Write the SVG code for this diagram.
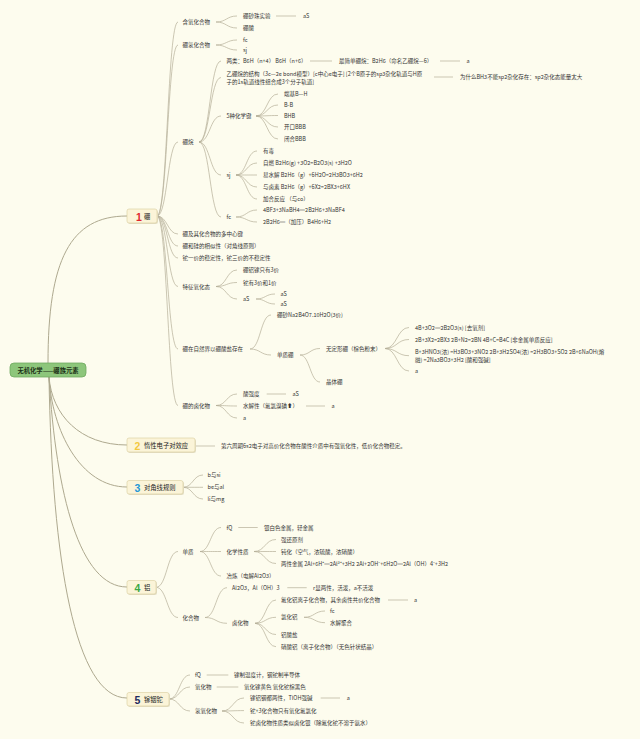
<svg xmlns="http://www.w3.org/2000/svg" width="640" height="739" viewBox="0 0 640 739">
<style>
text{font-family:"Noto Sans CJK SC","Noto Sans",sans-serif;fill:#333;dominant-baseline:central}
.t{font-size:5.5px}
.b{font-size:6.3px;fill:#222}
.n{font-family:"Liberation Sans",sans-serif;font-weight:bold;font-size:10.5px}
.c{fill:none;stroke:#b4af98;stroke-width:0.7}
.rc{fill:none;stroke:#aea98f;stroke-width:1}
.box{fill:#fbf4d8;stroke:#d9cc9c;stroke-width:0.6}
.sh{fill:#e4dfc6}
</style>
<rect width="640" height="739" fill="#fdfcee"/>
<g id="connectors">
<path class="rc" d="M48,363 C48,260 70,216 127,216"/>
<path class="rc" d="M49,377 C52,415 80,445 127,445"/>
<path class="rc" d="M49,377 C52,430 80,487 127,487"/>
<path class="rc" d="M49,377 C56,495 80,587 127,587"/>
<path class="rc" d="M49,377 C52,560 75,698 127,698"/>
<path class="c" d="M157,216 C167.5,216 167.5,22 178,22"/>
<path class="c" d="M157,216 C167.5,216 167.5,45 178,45"/>
<path class="c" d="M157,216 C167.5,216 167.5,142 178,142"/>
<path class="c" d="M157,216 C167.5,216 167.5,234 178,234"/>
<path class="c" d="M157,216 C167.5,216 167.5,246 178,246"/>
<path class="c" d="M157,216 C167.5,216 167.5,258 178,258"/>
<path class="c" d="M157,216 C167.5,216 167.5,286.5 178,286.5"/>
<path class="c" d="M157,216 C167.5,216 167.5,349 178,349"/>
<path class="c" d="M157,216 C167.5,216 167.5,405.5 178,405.5"/>
<path class="c" d="M216,22 C226.5,22 226.5,16 237,16"/>
<path class="c" d="M216,22 C226.5,22 226.5,28 237,28"/>
<path class="c" d="M276,16 H296"/>
<path class="c" d="M216,45 C226.5,45 226.5,40 237,40"/>
<path class="c" d="M216,45 C226.5,45 226.5,50 237,50"/>
<path class="c" d="M199,142 C210,142 210,61 221,61"/>
<path class="c" d="M199,142 C210,142 210,77.5 221,77.5"/>
<path class="c" d="M199,142 C210,142 210,116 221,116"/>
<path class="c" d="M199,142 C210,142 210,175 221,175"/>
<path class="c" d="M199,142 C210,142 210,217 221,217"/>
<path class="c" d="M310,61 H332"/>
<path class="c" d="M440,61 H460"/>
<path class="c" d="M434,77 H453"/>
<path class="c" d="M256,116 C267,116 267,94 278,94"/>
<path class="c" d="M256,116 C267,116 267,105 278,105"/>
<path class="c" d="M256,116 C267,116 267,115.5 278,115.5"/>
<path class="c" d="M256,116 C267,116 267,127 278,127"/>
<path class="c" d="M256,116 C267,116 267,139 278,139"/>
<path class="c" d="M236,175 C246.5,175 246.5,151 257,151"/>
<path class="c" d="M236,175 C246.5,175 246.5,163 257,163"/>
<path class="c" d="M236,175 C246.5,175 246.5,175 257,175"/>
<path class="c" d="M236,175 C246.5,175 246.5,187 257,187"/>
<path class="c" d="M236,175 C246.5,175 246.5,199 257,199"/>
<path class="c" d="M236,217 C246.5,217 246.5,210 257,210"/>
<path class="c" d="M236,217 C246.5,217 246.5,222 257,222"/>
<path class="c" d="M216,286.5 C226.5,286.5 226.5,270 237,270"/>
<path class="c" d="M216,286.5 C226.5,286.5 226.5,282.5 237,282.5"/>
<path class="c" d="M216,286.5 C226.5,286.5 226.5,299 237,299"/>
<path class="c" d="M256,299 C265.5,299 265.5,294 275,294"/>
<path class="c" d="M256,299 C265.5,299 265.5,304 275,304"/>
<path class="c" d="M250,349 C260.5,349 260.5,315 271,315"/>
<path class="c" d="M250,349 C260.5,349 260.5,355 271,355"/>
<path class="c" d="M300,355 C310,355 310,348.5 320,348.5"/>
<path class="c" d="M300,355 C310,355 310,382 320,382"/>
<path class="c" d="M385,348.5 C397,348.5 397,327.5 409,327.5"/>
<path class="c" d="M385,348.5 C397,348.5 397,339.5 409,339.5"/>
<path class="c" d="M385,348.5 C397,348.5 397,355.7 409,355.7"/>
<path class="c" d="M385,348.5 C397,348.5 397,371 409,371"/>
<path class="c" d="M216,405.5 C226.5,405.5 226.5,394 237,394"/>
<path class="c" d="M216,405.5 C226.5,405.5 226.5,406 237,406"/>
<path class="c" d="M216,405.5 C226.5,405.5 226.5,418 237,418"/>
<path class="c" d="M266.7,394 H286"/>
<path class="c" d="M306,406 H325"/>
<path class="c" d="M195,446 H215"/>
<path class="c" d="M183,487.3 C193,487.3 193,475 203,475"/>
<path class="c" d="M183,487.3 C193,487.3 193,487.3 203,487.3"/>
<path class="c" d="M183,487.3 C193,487.3 193,499 203,499"/>
<path class="c" d="M156,587.3 C167,587.3 167,551.5 178,551.5"/>
<path class="c" d="M156,587.3 C167,587.3 167,617.5 178,617.5"/>
<path class="c" d="M200,551.5 C210.5,551.5 210.5,527.5 221,527.5"/>
<path class="c" d="M200,551.5 C210.5,551.5 210.5,551.5 221,551.5"/>
<path class="c" d="M200,551.5 C210.5,551.5 210.5,576 221,576"/>
<path class="c" d="M238.3,527.5 H257.7"/>
<path class="c" d="M254,551.5 C265,551.5 265,539.5 276,539.5"/>
<path class="c" d="M254,551.5 C265,551.5 265,551.5 276,551.5"/>
<path class="c" d="M254,551.5 C265,551.5 265,563.5 276,563.5"/>
<path class="c" d="M205,617.5 C216,617.5 216,587.7 227,587.7"/>
<path class="c" d="M205,617.5 C216,617.5 216,623.3 227,623.3"/>
<path class="c" d="M287.3,587.7 H306.7"/>
<path class="c" d="M255,623.3 C265.5,623.3 265.5,600 276,600"/>
<path class="c" d="M255,623.3 C265.5,623.3 265.5,617.3 276,617.3"/>
<path class="c" d="M255,623.3 C265.5,623.3 265.5,634.5 276,634.5"/>
<path class="c" d="M255,623.3 C265.5,623.3 265.5,646.7 276,646.7"/>
<path class="c" d="M388,600 H408"/>
<path class="c" d="M304,617.3 C314.5,617.3 314.5,611 325,611"/>
<path class="c" d="M304,617.3 C314.5,617.3 314.5,622.7 325,622.7"/>
<path class="c" d="M169,699 C179.5,699 179.5,675 190,675"/>
<path class="c" d="M169,699 C179.5,699 179.5,687 190,687"/>
<path class="c" d="M169,699 C179.5,699 179.5,711 190,711"/>
<path class="c" d="M206.7,675 H228.3"/>
<path class="c" d="M216.7,687 H238.3"/>
<path class="c" d="M222,711 C233,711 233,698 244,698"/>
<path class="c" d="M222,711 C233,711 233,710.6 244,710.6"/>
<path class="c" d="M222,711 C233,711 233,723 244,723"/>
<path class="c" d="M320.7,698 H340"/>
</g>
<g id="root">
<rect x="10" y="363" width="76" height="14" rx="4" fill="#8dc67b" stroke="#6fa95f" stroke-width="0.8"/>
<text x="48" y="370" class="b" text-anchor="middle" font-weight="bold" style="fill:#1e3318">无机化学——硼族元素</text>
</g>
<g id="b1">
<rect class="sh" x="128" y="210" width="30" height="14" rx="2"/>
<rect class="box" x="127" y="209" width="30" height="14" rx="2"/>
<text class="n" x="136" y="216.5" style="fill:#e0262e">1</text>
<text class="b" x="144" y="216">硼</text>
</g>
<g id="b2">
<rect class="sh" x="128" y="439" width="68" height="14" rx="2"/>
<rect class="box" x="127" y="438" width="68" height="14" rx="2"/>
<text class="n" x="134.5" y="445.5" style="fill:#f4c83e">2</text>
<text class="b" x="144" y="445">惰性电子对效应</text>
</g>
<g id="b3">
<rect class="sh" x="128" y="481.5" width="56" height="13.5" rx="2"/>
<rect class="box" x="127" y="480.5" width="56" height="13.5" rx="2"/>
<text class="n" x="134.5" y="487.8" style="fill:#2497d6">3</text>
<text class="b" x="144" y="487.3">对角线规则</text>
</g>
<g id="b4">
<rect class="sh" x="128" y="581.5" width="29" height="13.5" rx="2"/>
<rect class="box" x="127" y="580.5" width="29" height="13.5" rx="2"/>
<text class="n" x="134.5" y="587.8" style="fill:#3aa845">4</text>
<text class="b" x="144" y="587.3">铝</text>
</g>
<g id="b5">
<rect class="sh" x="128" y="693.5" width="42" height="13.5" rx="2"/>
<rect class="box" x="127" y="692.5" width="42" height="13.5" rx="2"/>
<text class="n" x="134.5" y="699.8" style="fill:#1e2a5e">5</text>
<text class="b" x="144" y="699">镓铟铊</text>
</g>
<g id="n-hanyang"><text class="t" x="182.5" y="22">含氧化合物</text></g>
<g id="n-pengsha"><text class="t" x="243" y="16">硼砂珠实验</text></g>
<g id="n-as1"><text class="t" x="303" y="16">aS</text></g>
<g id="n-pengsuan"><text class="t" x="243" y="28">硼酸</text></g>
<g id="n-pengqing"><text class="t" x="182.5" y="45">硼氢化合物</text></g>
<g id="n-fc1"><text class="t" x="243" y="40">fc</text></g>
<g id="n-sj1"><text class="t" x="243" y="50">sj</text></g>
<g id="n-pengwan"><text class="t" x="182.5" y="142">硼烷</text></g>
<g id="n-lianglei"><text class="t" x="226.5" y="61">两类：B6H（n+4） B6H（n+6）</text></g>
<g id="n-zuijian"><text class="t" x="339" y="61">最简单硼烷：B2H6（命名乙硼烷—6）</text></g>
<g id="n-a1"><text class="t" x="466.5" y="61">a</text></g>
<g id="n-yipeng"><text class="t" x="226.5" y="73.5">乙硼烷的结构（3c—2e bond模型）[c中心e电子] [2个B原子的sp3杂化轨道与H原</text><text class="t" x="226.5" y="82">子的1s轨道线性组合成3个分子轨道]</text></g>
<g id="n-weishenme"><text class="t" x="460" y="77">为什么BH3不能sp2杂化存在：sp2杂化态能量太大</text></g>
<g id="n-5jian"><text class="t" x="226.5" y="116">5种化学键</text></g>
<g id="n-duanji"><text class="t" x="284" y="94">端基B—H</text></g>
<g id="n-bb"><text class="t" x="284" y="105">B-B</text></g>
<g id="n-bhb"><text class="t" x="284" y="115.5">BHB</text></g>
<g id="n-kaikou"><text class="t" x="284" y="127">开口BBB</text></g>
<g id="n-bihe"><text class="t" x="284" y="139">闭合BBB</text></g>
<g id="n-sj2"><text class="t" x="226.5" y="175">sj</text></g>
<g id="n-youdu"><text class="t" x="263" y="151">有毒</text></g>
<g id="n-ziran"><text class="t" x="263" y="163">自燃 B2H6(g) +3O2=B2O3(s) +3H2O</text></g>
<g id="n-yishui"><text class="t" x="263" y="175">易水解 B2H6（g）+6H2O=2H3BO3+6H2</text></g>
<g id="n-yulusu"><text class="t" x="263" y="187">与卤素 B2H6（g）+6X2=2BX3+6HX</text></g>
<g id="n-jiahe"><text class="t" x="263" y="199">加合反应 （与co）</text></g>
<g id="n-fc2"><text class="t" x="226.5" y="217">fc</text></g>
<g id="n-4bf3"><text class="t" x="263" y="210">4BF3+3NaBH4═2B2H6+3NaBF4</text></g>
<g id="n-2b2h6"><text class="t" x="263" y="222">2B2H6═（加压）B4H6+H2</text></g>
<g id="n-duozhongxin"><text class="t" x="182.5" y="234">硼及其化合物的多中心键</text></g>
<g id="n-xiangsi"><text class="t" x="182.5" y="246">硼和硅的相似性（对角线原则）</text></g>
<g id="n-tayijia"><text class="t" x="182.5" y="258">铊一价的稳定性，铊三价的不稳定性</text></g>
<g id="n-tezheng"><text class="t" x="182.5" y="286.5">特征氧化态</text></g>
<g id="n-3jia"><text class="t" x="243" y="270">硼铝镓只有3价</text></g>
<g id="n-ta31"><text class="t" x="243" y="282.5">铊有3价和1价</text></g>
<g id="n-as2"><text class="t" x="243" y="299">aS</text></g>
<g id="n-as3"><text class="t" x="280.5" y="294">aS</text></g>
<g id="n-as4"><text class="t" x="280.5" y="304">aS</text></g>
<g id="n-ziranjie"><text class="t" x="182.5" y="349">硼在自然界以硼酸盐存在</text></g>
<g id="n-pengsha2"><text class="t" x="277" y="315">硼砂Na2B4O7.10H2O(3价)</text></g>
<g id="n-danzhi"><text class="t" x="277" y="355">单质硼</text></g>
<g id="n-wudingxing"><text class="t" x="326" y="348.5">无定形硼（棕色粉末）</text></g>
<g id="n-jingti"><text class="t" x="326" y="382">晶体硼</text></g>
<g id="n-quyang"><text class="t" x="415" y="327.5">4B+3O2═2B2O3(s) [去氧剂]</text></g>
<g id="n-feijinshu"><text class="t" x="415" y="339.5">2B+3X2=2BX3 2B+N2=2BN 4B+C=B4C [非金属单质反应]</text></g>
<g id="n-suan"><text class="t" x="415" y="351.5">B+3HNO3(浓) =H3BO3+3NO2 2B+3H2SO4(浓) =2H3BO3+SO2 2B+6NaOH(熔</text><text class="t" x="415" y="360">融) =2Na3BO3+3H2 [酸和强碱]</text></g>
<g id="n-a2"><text class="t" x="415" y="371">a</text></g>
<g id="n-luhua"><text class="t" x="182.5" y="405.5">硼的卤化物</text></g>
<g id="n-suanqiang"><text class="t" x="243" y="394">酸强度</text></g>
<g id="n-as5"><text class="t" x="292.5" y="394">aS</text></g>
<g id="n-shuijie"><text class="t" x="243" y="406">水解性（氟氯溴碘⬆）</text></g>
<g id="n-a3"><text class="t" x="331.5" y="406">a</text></g>
<g id="n-a4"><text class="t" x="243" y="418">a</text></g>
<g id="n-dixing"><text class="t" x="221" y="446">第六周期6s2电子对高价化合物在酸性介质中有强氧化性，低价化合物稳定。</text></g>
<g id="n-bsi"><text class="t" x="207.5" y="475">b与si</text></g>
<g id="n-beal"><text class="t" x="207.5" y="487.3">be与al</text></g>
<g id="n-limg"><text class="t" x="207.5" y="499">li与mg</text></g>
<g id="n-al-danzhi"><text class="t" x="182.5" y="551.5">单质</text></g>
<g id="n-fq1"><text class="t" x="226.5" y="527.5">fQ</text></g>
<g id="n-yinbai"><text class="t" x="264" y="527.5">银白色金属，轻金属</text></g>
<g id="n-huaxue"><text class="t" x="226.5" y="551.5">化学性质</text></g>
<g id="n-huanyuan"><text class="t" x="281" y="539.5">强还原剂</text></g>
<g id="n-dunhua"><text class="t" x="281" y="551.5">钝化（空气，浓硫酸，浓硝酸）</text></g>
<g id="n-liangxing"><text class="t" x="281" y="563.5">两性金属 2Al+6H⁺═2Al³⁺+3H2 2Al+2OH⁻+6H2O═2Al（OH）4⁻+3H2</text></g>
<g id="n-yelian"><text class="t" x="226.5" y="576">冶炼（电解Al2O3）</text></g>
<g id="n-al-huahe"><text class="t" x="182.5" y="617.5">化合物</text></g>
<g id="n-al2o3"><text class="t" x="232" y="587.7">Al2O3，Al（OH）3</text></g>
<g id="n-rxian"><text class="t" x="313" y="587.7">r显两性，活泼，a不活泼</text></g>
<g id="n-al-luhua"><text class="t" x="232" y="623.3">卤化物</text></g>
<g id="n-fuhualv"><text class="t" x="281" y="600">氟化铝离子化合物，其余卤性共价化合物</text></g>
<g id="n-a5"><text class="t" x="414" y="600">a</text></g>
<g id="n-lvhualv"><text class="t" x="281" y="617.3">氯化铝</text></g>
<g id="n-fc3"><text class="t" x="330" y="611">fc</text></g>
<g id="n-shuijieju"><text class="t" x="330" y="622.7">水解聚合</text></g>
<g id="n-lvsuan"><text class="t" x="281" y="634.5">铝酸盐</text></g>
<g id="n-xiaosuan"><text class="t" x="281" y="646.7">硝酸铝（离子化合物）（无色针状结晶）</text></g>
<g id="n-fq2"><text class="t" x="195" y="675">fQ</text></g>
<g id="n-jiazhi"><text class="t" x="234" y="675">镓制温度计，铟铊制半导体</text></g>
<g id="n-yanghua"><text class="t" x="195" y="687">氧化物</text></g>
<g id="n-yanghuajia"><text class="t" x="244" y="687">氧化镓黄色 氧化铊棕黑色</text></g>
<g id="n-qingyang"><text class="t" x="195" y="711">氢氧化物</text></g>
<g id="n-liangxing2"><text class="t" x="250" y="698">镓铝铟都两性，TlOH强碱</text></g>
<g id="n-a6"><text class="t" x="346.7" y="698">a</text></g>
<g id="n-ta3"><text class="t" x="250" y="710.6">铊+3化合物只有氧化氟氯化</text></g>
<g id="n-taluhua"><text class="t" x="250" y="723">铊卤化物性质类似卤化银（除氟化铊不溶于氨水）</text></g>
</svg>
